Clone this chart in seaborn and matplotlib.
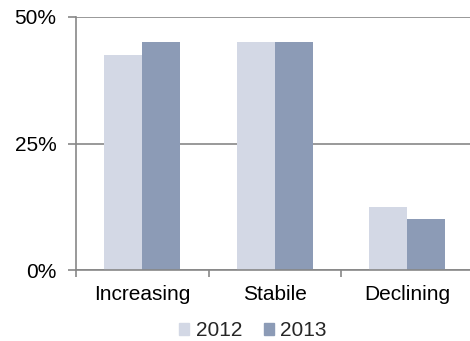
import matplotlib
matplotlib.use("Agg")
import matplotlib.pyplot as plt
import seaborn as sns
import pandas as pd
from matplotlib.ticker import FixedLocator, PercentFormatter

categories = ["Increasing", "Stabile", "Declining"]
years = ["2012", "2013"]
values_2012 = [42.5, 45.0, 12.5]
values_2013 = [45.0, 45.0, 10.0]
y_ticks = [0, 25, 50]

colors = {"2012": "#D3D8E5", "2013": "#8C9BB6"}
grid_color = "#878787"

df = pd.DataFrame({
    "category": categories * 2,
    "year": ["2012"] * 3 + ["2013"] * 3,
    "value": values_2012 + values_2013,
})

sns.set_theme(style="white")
plt.rcParams["font.family"] = ["Liberation Sans", "DejaVu Sans"]

fig = plt.figure(figsize=(4.70, 3.41), dpi=100)
ax = fig.add_axes([76 / 470, 71 / 341, 397.5 / 470, 253 / 341])

sns.barplot(data=df, x="category", y="value", hue="year", order=categories,
            hue_order=years, palette=colors, width=0.575, gap=0,
            linewidth=0, saturation=1, legend=False, ax=ax)

ax.set_xlim(-0.5, 2.5)
ax.set_ylim(0, 50)
ax.set_yticks(y_ticks)
ax.yaxis.set_major_formatter(PercentFormatter(decimals=0))
ax.set_xlabel("")
ax.set_ylabel("")

# gridlines and axis styling
ax.yaxis.grid(True, color=grid_color, linewidth=1.2)
ax.xaxis.grid(False)
ax.set_axisbelow(True)
for side in ["top", "right"]:
    ax.spines[side].set_visible(False)
for side in ["left", "bottom"]:
    ax.spines[side].set_color(grid_color)
    ax.spines[side].set_linewidth(1.2)

ax.tick_params(axis="y", which="major", direction="out", length=5.5, width=1.2,
               color=grid_color, pad=8.5, labelsize=15, labelcolor="black", left=True)
ax.tick_params(axis="x", which="major", length=0, pad=10.5, labelsize=15, labelcolor="black")
ax.xaxis.set_minor_locator(FixedLocator([-0.5, 0.5, 1.5, 2.5]))
ax.tick_params(axis="x", which="minor", direction="out", length=5, width=1.2,
               color=grid_color, bottom=True)

handles = [plt.Rectangle((0, 0), 1, 1, color=colors[y]) for y in years]
fig.legend(handles, years, loc="center", bbox_to_anchor=(253 / 470, 10 / 341),
           ncol=2, frameon=False, fontsize=15, handlelength=0.48, handleheight=0.48,
           handletextpad=0.3, columnspacing=1.05, borderpad=0, borderaxespad=0)

fig.savefig("out.png", dpi=100)
